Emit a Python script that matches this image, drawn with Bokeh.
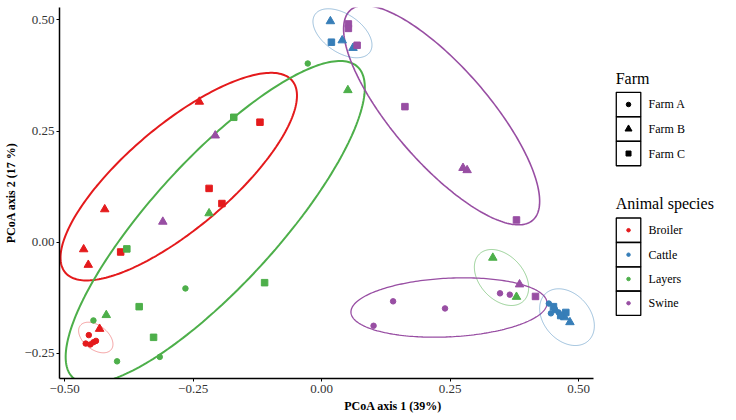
import numpy as np
from bokeh.plotting import figure
from bokeh.models import ColumnDataSource, Range1d, FixedTicker
from bokeh.core.properties import value
from bokeh.embed import file_html
from bokeh.resources import INLINE

# ---------------- data ----------------
broiler_x = [-0.238, -0.120, -0.219, -0.194, -0.422, -0.463, -0.454, -0.391, -0.432,
             -0.453, -0.459, -0.450, -0.444, -0.439]
broiler_y = [0.316, 0.270, 0.121, 0.087, 0.074, -0.016, -0.051, -0.022, -0.195,
             -0.209, -0.228, -0.230, -0.225, -0.222]
broiler_farm = ["B", "C", "C", "C", "B", "B", "B", "C", "B", "A", "A", "A", "A", "A"]

cattle_x = [0.017, 0.019, 0.040, 0.061, 0.442, 0.446, 0.453, 0.461, 0.467,
            0.455, 0.473, 0.483, 0.451, 0.475, 0.465]
cattle_y = [0.497, 0.450, 0.454, 0.437, -0.138, -0.160, -0.149, -0.158, -0.167,
            -0.153, -0.169, -0.180, -0.145, -0.158, -0.165]
cattle_farm = ["B", "C", "B", "B", "A", "A", "A", "A", "A", "B", "B", "B", "C", "C", "C"]

layers_x = [-0.027, 0.051, -0.171, -0.219, -0.379, -0.265, -0.111, -0.355, -0.419,
            -0.444, -0.327, -0.315, -0.398, 0.333, 0.379]
layers_y = [0.402, 0.342, 0.281, 0.065, -0.015, -0.104, -0.091, -0.145, -0.164,
            -0.176, -0.214, -0.258, -0.268, -0.035, -0.123]
layers_farm = ["A", "B", "C", "B", "C", "A", "C", "C", "B", "A", "C", "A", "A", "B", "B"]

swine_x = [0.052, 0.052, 0.069, -0.309, -0.207, 0.162, 0.275, 0.283, 0.379, 0.385,
           0.416, 0.347, 0.366, 0.139, 0.240, 0.101]
swine_y = [0.491, 0.481, 0.443, 0.046, 0.240, 0.305, 0.167, 0.162, 0.050, -0.095,
           -0.122, -0.115, -0.118, -0.133, -0.149, -0.188]
swine_farm = ["C", "C", "C", "B", "B", "C", "B", "B", "C", "B", "C", "A", "A", "A", "A", "A"]

species_names = ["Broiler", "Cattle", "Layers", "Swine"]
farm_names = ["Farm A", "Farm B", "Farm C"]

# ellipse summaries: centre, half extent in x / y, correlation term
ell_species = ["Broiler", "Broiler", "Layers", "Layers", "Swine", "Swine", "Cattle", "Cattle"]
ell_cx = [-0.278, -0.4394, -0.207, 0.3499, 0.2334, 0.2477, 0.0405, 0.4773]
ell_cy = [0.1475, -0.2144, 0.0449, -0.0794, 0.2858, -0.1469, 0.470, -0.1686]
ell_ax = [0.230, 0.0334, 0.291, 0.0528, 0.1907, 0.1907, 0.0574, 0.0532]
ell_ay = [0.2335, 0.0344, 0.3628, 0.063, 0.2467, 0.0668, 0.0551, 0.0638]
ell_corr = [0.78, -0.44, 0.835, -0.366, -0.785, 0.15, -0.48, -0.305]

x_ticks = [-0.50, -0.25, 0.00, 0.25, 0.50]
y_ticks = [-0.25, 0.00, 0.25, 0.50]

# ---------------- styles ----------------
colors = {"Broiler": "#E41A1C", "Cattle": "#377EB8", "Layers": "#4DAF4A", "Swine": "#984EA3"}
markers = {"A": "circle", "B": "triangle", "C": "square"}
msizes = {"A": 5.5, "B": 8.5, "C": 6.5}
ell_width = [2.0, 0.8, 2.0, 0.8, 1.6, 1.3, 0.8, 0.8]
ell_alpha = [1.0, 0.5, 1.0, 0.7, 1.0, 1.0, 0.6, 0.6]
FONT = "Liberation Serif"

X0, X1 = -0.510, 0.529          # axis extent
Y0, Y1 = -0.3066, 0.528
XR = 0.7876                      # frame continues to the right to host the legend

p = figure(frame_width=667, frame_height=371, output_backend="svg", toolbar_location=None,
           x_range=Range1d(X0, XR), y_range=Range1d(Y0, Y1),
           min_border_left=59, min_border_right=0, min_border_top=7, min_border_bottom=33)
p.outline_line_color = None
p.grid.grid_line_color = None
p.background_fill_color = "white"

# ellipses
t = np.linspace(0, 2 * np.pi, 240)
exs, eys, ecol = [], [], []
for sp, cx, cy, ax, ay, c in zip(ell_species, ell_cx, ell_cy, ell_ax, ell_ay, ell_corr):
    phi = np.arccos(c)
    exs.append(list(cx + ax * np.cos(t)))
    eys.append(list(cy + ay * np.cos(t + phi)))
    ecol.append(colors[sp])
p.multi_line(xs="xs", ys="ys", line_color="c", line_width="w", line_alpha="a",
             source=ColumnDataSource(dict(xs=exs, ys=eys, c=ecol, w=ell_width, a=ell_alpha)))

# points
xs, ys, cs, ms, ss = [], [], [], [], []
for sp, xx, yy, ff in [("Broiler", broiler_x, broiler_y, broiler_farm),
                       ("Cattle", cattle_x, cattle_y, cattle_farm),
                       ("Layers", layers_x, layers_y, layers_farm),
                       ("Swine", swine_x, swine_y, swine_farm)]:
    for a, b, f in zip(xx, yy, ff):
        xs.append(a); ys.append(b); cs.append(colors[sp])
        ms.append(markers[f]); ss.append(msizes[f])
p.scatter(x="x", y="y", marker="m", size="s", fill_color="c", line_color="c",
          source=ColumnDataSource(dict(x=xs, y=ys, c=cs, m=ms, s=ss)))


def fmt(v):
    s = f"{abs(v):.2f}"
    return ("\u2212" + s) if v < 0 else s


for ax_, ticks in ((p.xaxis[0], x_ticks), (p.yaxis[0], y_ticks)):
    ax_.ticker = FixedTicker(ticks=ticks)
    ax_.major_label_overrides = {v: fmt(v) for v in ticks}
    ax_.minor_tick_line_color = None
    ax_.major_tick_out = 3
    ax_.major_tick_in = 0
    ax_.major_tick_line_color = "black"
    ax_.axis_line_color = "black"
    ax_.axis_line_width = 1.5
    ax_.major_label_text_font = FONT
    ax_.major_label_text_font_size = "13px"
    ax_.major_label_text_color = "#333333"
    ax_.major_label_standoff = 2
    ax_.axis_label_text_font = FONT
    ax_.axis_label_text_font_size = "12px"
    ax_.axis_label_text_font_style = "bold"
    ax_.axis_label_text_color = "black"
    ax_.axis_label_standoff = 3

p.xaxis.major_label_standoff = 3
p.xaxis.bounds = (X0, X1)
p.xaxis.axis_label = "PCoA axis 1 (39%)"
p.yaxis.axis_label = "PCoA axis 2 (17 %)"

# ---------------- legend (right of the axis extent) ----------------
key_x = 0.597
lab_x = 0.636
ttl_x = 0.572
farm_y = [0.3098, 0.2547, 0.1995]
species_y = [0.0270, -0.0281, -0.0828, -0.1372]
p.text(x=[ttl_x, ttl_x], y=[0.3683, 0.0871], text=["Farm", "Animal species"],
       text_font=value(FONT), text_font_size="16px", text_baseline="middle",
       text_align="left", text_color="black")
p.rect(x=[key_x] * 7, y=farm_y + species_y, width=24.5, height=24.4,
       width_units="screen", height_units="screen",
       fill_color=None, line_color="black", line_width=1.3)
p.scatter(x=[key_x] * 3, y=farm_y, marker=[markers[k] for k in "ABC"],
          size=[4.5, 7, 5], color="black")
p.scatter(x=[key_x] * 4, y=species_y, marker="circle", size=3.5,
          color=[colors[s] for s in species_names])
p.text(x=[lab_x] * 7, y=farm_y + species_y, text=farm_names + species_names,
       text_font=value(FONT), text_font_size="12px", text_baseline="middle",
       text_align="left", text_color="black")

open("out.html", "w").write(file_html(p, INLINE))
